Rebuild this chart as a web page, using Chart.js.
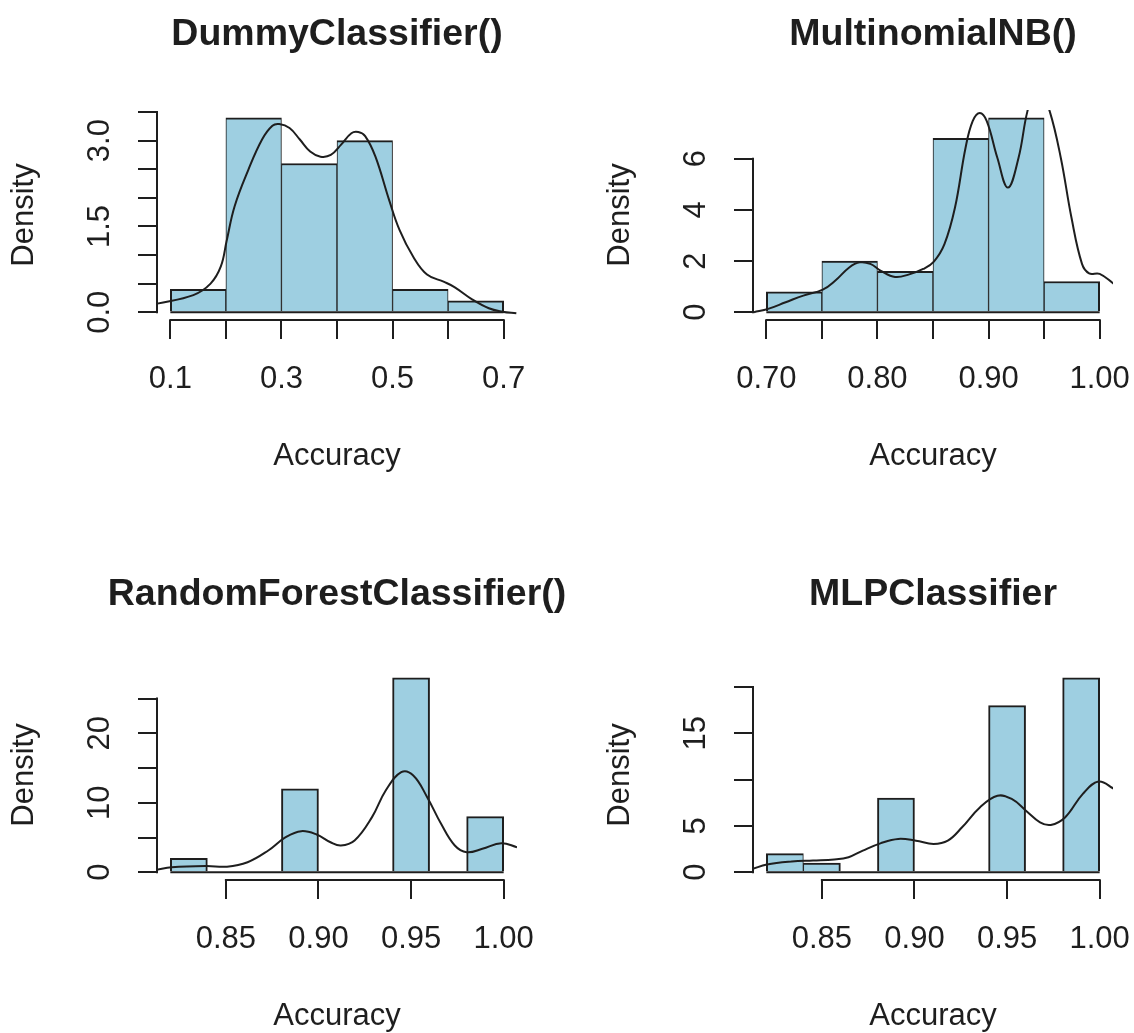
<!DOCTYPE html>
<html>
<head>
<meta charset="utf-8">
<script src="https://cdn.jsdelivr.net/npm/chart.js@4.4.1/dist/chart.umd.min.js"></script>
<style>
  html, body { margin: 0; padding: 0; background: #fff; overflow: hidden; }
  #wrap { position: relative; width: 1134px; height: 1033px; overflow: hidden; }
  #wrap canvas { position: absolute; }
</style>
</head>
<body>
<div id="wrap">
  <canvas id="c1" width="596" height="560" style="left:0;top:0"></canvas>
  <canvas id="c2" width="596" height="560" style="left:596px;top:0"></canvas>
  <canvas id="c3" width="596" height="560" style="left:0;top:560px"></canvas>
  <canvas id="c4" width="596" height="560" style="left:596px;top:560px"></canvas>
</div>
<script>
// --- Dati ---

// DummyClassifier()
const dummyBreaks = [0.1, 0.2, 0.3, 0.4, 0.5, 0.6, 0.7];
const dummyDensity = [0.4, 3.4, 2.6, 3.0, 0.4, 0.2];
const dummyCurveX = [0.0765, 0.1414, 0.1724, 0.1909, 0.2014, 0.2156, 0.2404, 0.2651, 0.2837, 0.2960,
  0.3146, 0.3331, 0.3517, 0.3703, 0.3888, 0.4074, 0.4259, 0.4383, 0.4507, 0.4692,
  0.4939, 0.5125, 0.5372, 0.5620, 0.5929, 0.6114, 0.6424, 0.6733, 0.6980, 0.7228];
const dummyCurveY = [0.15, 0.30, 0.50, 0.80, 1.25, 1.85, 2.49, 3.02, 3.26, 3.29,
  3.22, 3.02, 2.81, 2.72, 2.75, 2.93, 3.13, 3.15, 3.08, 2.72,
  1.96, 1.44, 0.97, 0.66, 0.53, 0.44, 0.23, 0.07, 0.01, -0.02];
const dummyXTicks = [0.1, 0.2, 0.3, 0.4, 0.5, 0.6, 0.7];
const dummyXLabels = ['0.1', '', '0.3', '', '0.5', '', '0.7'];
const dummyYTicks = [0, 0.5, 1, 1.5, 2, 2.5, 3, 3.5];
const dummyYLabels = ['0.0', '', '', '1.5', '', '', '3.0', ''];

// MultinomialNB()
const nbBreaks = [0.70, 0.75, 0.80, 0.85, 0.90, 0.95, 1.00];
const nbDensity = [0.8, 2.0, 1.6, 6.8, 7.6, 1.2];
const nbCurveX = [0.6889, 0.7016, 0.7174, 0.7333, 0.7508, 0.7619, 0.7746, 0.7841, 0.7936, 0.8031,
  0.8159, 0.8286, 0.8412, 0.8508, 0.8603, 0.8698, 0.8793, 0.8857, 0.8921, 0.8984,
  0.9079, 0.9174, 0.9270, 0.9350, 0.9440, 0.9550, 0.9650, 0.9746, 0.9841, 0.9905,
  1.0000, 1.0127];
const nbCurveY = [0.00, 0.13, 0.39, 0.65, 0.88, 1.23, 1.75, 1.95, 1.89, 1.62,
  1.38, 1.48, 1.69, 1.98, 2.66, 4.09, 6.43, 7.47, 7.79, 7.47,
  6.04, 4.87, 6.04, 7.86, 9.00, 7.86, 6.04, 3.70, 1.89, 1.52,
  1.50, 1.11];
const nbXTicks = [0.70, 0.75, 0.80, 0.85, 0.90, 0.95, 1.00];
const nbXLabels = ['0.70', '', '0.80', '', '0.90', '', '1.00'];
const nbYTicks = [0, 2, 4, 6];
const nbYLabels = ['0', '2', '4', '6'];

// RandomForestClassifier()
const rfBreaks = [0.82, 0.84, 0.86, 0.88, 0.90, 0.92, 0.94, 0.96, 0.98, 1.00];
const rfDensity = [2, 0, 0, 12, 0, 0, 28, 0, 8];
const rfCurveX = [0.8124, 0.8207, 0.8394, 0.8506, 0.8617, 0.8729, 0.8823, 0.8907, 0.8990, 0.9065,
  0.9121, 0.9195, 0.9289, 0.9363, 0.9447, 0.9512, 0.9587, 0.9662, 0.9736, 0.9801,
  0.9885, 0.9988, 1.0072];
const rfCurveY = [0.35, 0.72, 0.90, 0.80, 1.44, 3.13, 5.04, 5.91, 5.43, 4.32,
  3.85, 4.57, 7.93, 11.77, 14.41, 13.93, 10.81, 6.97, 3.85, 2.88,
  3.37, 4.18, 3.60];
const rfXTicks = [0.85, 0.90, 0.95, 1.00];
const rfXLabels = ['0.85', '0.90', '0.95', '1.00'];
const rfYTicks = [0, 5, 10, 15, 20, 25];
const rfYLabels = ['0', '', '10', '', '20', ''];

// MLPClassifier
const mlpBreaks = [0.82, 0.84, 0.86, 0.88, 0.90, 0.92, 0.94, 0.96, 0.98, 1.00];
const mlpDensity = [2, 1, 0, 8, 0, 0, 18, 0, 21];
const mlpCurveX = [0.8126, 0.8203, 0.8337, 0.8452, 0.8567, 0.8644, 0.8721, 0.8816, 0.8912, 0.9008,
  0.9103, 0.9180, 0.9257, 0.9353, 0.9448, 0.9525, 0.9602, 0.9678, 0.9736, 0.9813,
  0.9908, 0.9994, 1.0080];
const mlpCurveY = [0.37, 0.83, 1.15, 1.26, 1.37, 1.62, 2.34, 3.12, 3.60, 3.41,
  3.06, 3.41, 4.85, 7.00, 8.26, 7.91, 6.65, 5.39, 5.11, 5.92,
  8.44, 9.80, 8.98];
const mlpXTicks = [0.85, 0.90, 0.95, 1.00];
const mlpXLabels = ['0.85', '0.90', '0.95', '1.00'];
const mlpYTicks = [0, 5, 10, 15, 20];
const mlpYLabels = ['0', '5', '', '15', ''];

// --- Stile (tipo grafica base di R) ---
const FAMILY = "'Liberation Sans', Arial, Helvetica, sans-serif";
const AXIS_FONT = { family: FAMILY, size: 31 };
const TITLE_SIZE = 37.5;
const INK = '#1e1e1e';
const FILL = '#9ecfe1';
const TICK_LEN = 19;
const CANVAS_W = 596, CANVAS_H = 560;
const AREA = { left: 157, right: 517, top: 110, bottom: 320 };

function widestLabel(labels) {
  const c = document.createElement('canvas').getContext('2d');
  c.font = AXIS_FONT.size + 'px ' + FAMILY;
  return Math.max(...labels.map(s => c.measureText(s).width));
}

// asse come axis() di R: la linea va dal primo all'ultimo tick, titolo sopra l'area
const rAxisLines = {
  id: 'rAxisLines',
  afterDraw(chart) {
    const { ctx, chartArea, scales: { x, y } } = chart;
    const xt = x.ticks, yt = y.ticks;
    ctx.save();
    ctx.strokeStyle = INK;
    ctx.lineWidth = 2;
    ctx.lineCap = 'square';
    ctx.beginPath();
    ctx.moveTo(x.getPixelForValue(xt[0].value), chartArea.bottom);
    ctx.lineTo(x.getPixelForValue(xt[xt.length - 1].value), chartArea.bottom);
    ctx.moveTo(chartArea.left, y.getPixelForValue(yt[0].value));
    ctx.lineTo(chartArea.left, y.getPixelForValue(yt[yt.length - 1].value));
    ctx.stroke();

    ctx.fillStyle = INK;
    ctx.font = 'bold ' + TITLE_SIZE + 'px ' + FAMILY;
    ctx.textAlign = 'center';
    ctx.textBaseline = 'middle';
    ctx.fillText(chart.options.plugins.rTitle.text, (chartArea.left + chartArea.right) / 2, 34.5);
    ctx.restore();
  }
};

function makePanel(id, title, breaks, density, curveX, curveY, xTicks, xLabels, yTicks, yLabels) {
  const mids = density.map((d, i) => ({ x: (breaks[i] + breaks[i + 1]) / 2, y: d }));
  const curve = curveX.map((x, i) => ({ x: x, y: curveY[i] }));
  const lo = breaks[0], hi = breaks[breaks.length - 1];
  const baseline = [{ x: lo, y: 0 }, { x: hi, y: 0 }];
  const xPad = 0.04 * (hi - lo);
  const yMax = Math.max(...density);
  const yTickPad = 57 - TICK_LEN - widestLabel(yLabels) / 2;

  const grid = {
    display: true, drawOnChartArea: false, drawTicks: true, offset: false,
    tickLength: TICK_LEN, color: INK, lineWidth: 2
  };

  return new Chart(document.getElementById(id), {
    type: 'bar',
    data: {
      datasets: [
        {
          type: 'line', data: curve, borderColor: INK, borderWidth: 2,
          pointRadius: 0, tension: 0.4, order: 0
        },
        {
          type: 'line', data: baseline, borderColor: INK, borderWidth: 2,
          pointRadius: 0, order: 1
        },
        {
          type: 'bar', data: mids, backgroundColor: FILL, borderColor: INK,
          borderSkipped: false, barPercentage: 1, categoryPercentage: 1, order: 2,
          borderWidth: c => {
            const i = c.dataIndex;
            return {
              top: 2, bottom: 0,
              left: i > 0 && density[i - 1] > 0 ? 1 : 2,
              right: i < density.length - 1 && density[i + 1] > 0 ? 1 : 2
            };
          }
        }
      ]
    },
    options: {
      responsive: false,
      animation: false,
      events: [],
      layout: { padding: { left: 0, top: AREA.top, right: CANVAS_W - AREA.right, bottom: 0 } },
      plugins: {
        legend: { display: false },
        tooltip: { enabled: false },
        rTitle: { text: title }
      },
      scales: {
        x: {
          type: 'linear', min: lo - xPad, max: hi + xPad, offset: false,
          afterBuildTicks: ax => { ax.ticks = xTicks.map(v => ({ value: v })); },
          afterFit: ax => { ax.height = CANVAS_H - AREA.bottom; },
          grid: grid,
          border: { display: false },
          ticks: {
            font: AXIS_FONT, color: INK, padding: 22, autoSkip: false,
            maxRotation: 0, minRotation: 0,
            callback: (v, i) => xLabels[i]
          },
          title: { display: true, text: 'Accuracy', font: AXIS_FONT, color: INK, padding: { top: 0, bottom: 85 } }
        },
        y: {
          type: 'linear', min: -0.04 * yMax, max: 1.04 * yMax,
          afterBuildTicks: ax => { ax.ticks = yTicks.map(v => ({ value: v })); },
          afterFit: ax => { ax.width = AREA.left; },
          grid: grid,
          border: { display: false },
          ticks: {
            font: AXIS_FONT, color: INK, padding: yTickPad, autoSkip: false,
            minRotation: 90, maxRotation: 90, crossAlign: 'center',
            callback: (v, i) => yLabels[i]
          },
          title: { display: true, text: 'Density', font: AXIS_FONT, color: INK, padding: { top: 6, bottom: 0 } }
        }
      }
    },
    plugins: [rAxisLines]
  });
}

makePanel('c1', 'DummyClassifier()', dummyBreaks, dummyDensity, dummyCurveX, dummyCurveY,
  dummyXTicks, dummyXLabels, dummyYTicks, dummyYLabels);
makePanel('c2', 'MultinomialNB()', nbBreaks, nbDensity, nbCurveX, nbCurveY,
  nbXTicks, nbXLabels, nbYTicks, nbYLabels);
makePanel('c3', 'RandomForestClassifier()', rfBreaks, rfDensity, rfCurveX, rfCurveY,
  rfXTicks, rfXLabels, rfYTicks, rfYLabels);
makePanel('c4', 'MLPClassifier', mlpBreaks, mlpDensity, mlpCurveX, mlpCurveY,
  mlpXTicks, mlpXLabels, mlpYTicks, mlpYLabels);
</script>
</body>
</html>
